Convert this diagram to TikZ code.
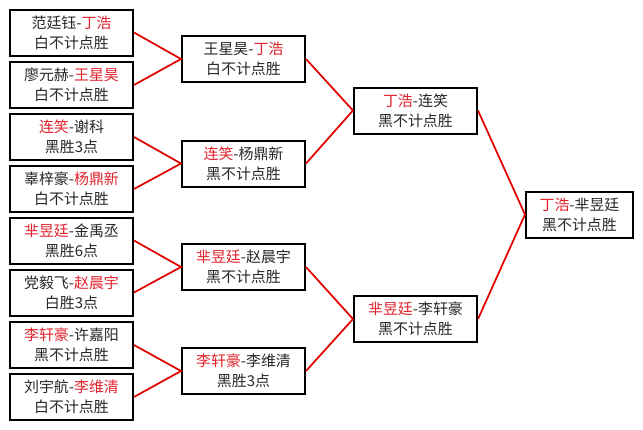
\documentclass[tikz,border=0pt]{standalone}
\usepackage{fontspec}
\setmainfont{Noto Sans CJK SC}
\definecolor{wred}{RGB}{225,35,45}
\definecolor{lred}{RGB}{225,0,0}
\definecolor{tgray}{RGB}{40,40,40}
\newcommand{\R}[1]{\textcolor{wred}{#1}}
\begin{document}
\begin{tikzpicture}[x=0.75pt,y=-0.75pt,
  box/.style={draw=black,fill=white,line width=1.5pt,inner sep=0pt,
    minimum width=92.25pt,minimum height=34.5pt,align=center,text=tgray,
    font=\fontsize{11.2}{15}\selectfont},
  fbox/.style={box,minimum width=80.25pt},
  link/.style={draw=lred,line width=1.3pt}]
\useasboundingbox (0,0) rectangle (643,429);
\fill[white] (0,0) rectangle (643,429);
% column 1
\node[box] (a1) at (71.5,32.5) {范廷钰-\R{丁浩}\\白不计点胜};
\node[box] (a2) at (71.5,85) {廖元赫-\R{王星昊}\\白不计点胜};
\node[box] (a3) at (71.5,137) {\R{连笑}-谢科\\黑胜3点};
\node[box] (a4) at (71.5,189) {辜梓豪-\R{杨鼎新}\\白不计点胜};
\node[box] (a5) at (71.5,240.5) {\R{芈昱廷}-金禹丞\\黑胜6点};
\node[box] (a6) at (71.5,292.5) {党毅飞-\R{赵晨宇}\\白胜3点};
\node[box] (a7) at (71.5,345) {\R{李轩豪}-许嘉阳\\黑不计点胜};
\node[box] (a8) at (71.5,397) {刘宇航-\R{李维清}\\白不计点胜};
% column 2
\node[box] (b1) at (243.5,59) {王星昊-\R{丁浩}\\白不计点胜};
\node[box] (b2) at (243.5,163.5) {\R{连笑}-杨鼎新\\黑不计点胜};
\node[box] (b3) at (243.5,267) {\R{芈昱廷}-赵晨宇\\黑不计点胜};
\node[box] (b4) at (243.5,371) {\R{李轩豪}-李维清\\黑胜3点};
% column 3
\node[box] (c1) at (415.5,110.5) {\R{丁浩}-连笑\\黑不计点胜};
\node[box] (c2) at (415.5,319) {\R{芈昱廷}-李轩豪\\黑不计点胜};
% final
\node[fbox] (d1) at (579.5,214.5) {\R{丁浩}-芈昱廷\\黑不计点胜};
% links
\draw[link] (a1.east) -- (b1.west) -- (a2.east);
\draw[link] (a3.east) -- (b2.west) -- (a4.east);
\draw[link] (a5.east) -- (b3.west) -- (a6.east);
\draw[link] (a7.east) -- (b4.west) -- (a8.east);
\draw[link] (b1.east) -- (c1.west) -- (b2.east);
\draw[link] (b3.east) -- (c2.west) -- (b4.east);
\draw[link] (c1.east) -- (d1.west) -- (c2.east);
\end{tikzpicture}
\end{document}
